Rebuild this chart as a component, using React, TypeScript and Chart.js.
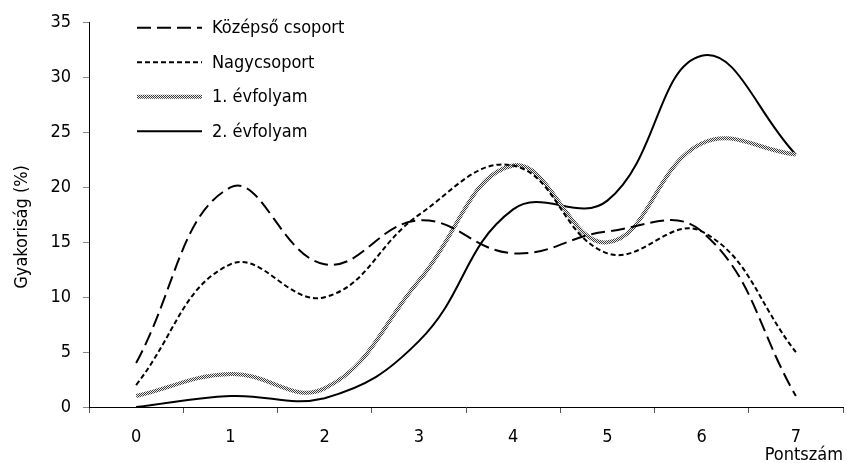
import React, { useEffect, useRef } from 'react';
import { Chart, registerables } from 'chart.js';

Chart.register(...registerables);

const categories = ['0', '1', '2', '3', '4', '5', '6', '7'];
const kozepsoCsoport = [4, 20, 13, 17, 14, 16, 16, 1];
const nagycsoport = [2, 13, 10, 17.5, 22, 14, 16, 5];
const evfolyam1 = [1, 3, 1.7, 11.5, 22, 15, 24, 23];
const evfolyam2 = [0, 1, 0.8, 6, 18, 18.8, 32, 23];
const seriesNames = ['Középső csoport', 'Nagycsoport', '1. évfolyam', '2. évfolyam'];
const yTitle = 'Gyakoriság (%)';
const xTitle = 'Pontszám';

const FONT = '"DejaVu Sans Condensed", "DejaVu Sans", sans-serif';
const FS = 18;

function makePattern(): CanvasPattern | string {
  const c = document.createElement('canvas');
  c.width = 2;
  c.height = 2;
  const g = c.getContext('2d');
  if (!g) return '#888';
  g.fillStyle = '#eeeeee';
  g.fillRect(0, 0, 2, 2);
  g.fillStyle = '#3a3a3a';
  g.fillRect(0, 0, 1, 1);
  g.fillRect(1, 1, 1, 1);
  const p = g.createPattern(c, 'repeat');
  return p || '#888';
}

const insideLegend = {
  id: 'insideLegend',
  afterDraw(chart: any) {
    const ctx = chart.ctx as CanvasRenderingContext2D;
    const area = chart.chartArea;
    const x0 = area.left + 48;
    const x1 = area.left + 113;
    const tx = area.left + 123;
    const rowStart = area.top + 5;
    const rowGap = 34.5;
    chart.data.datasets.forEach((ds: any, i: number) => {
      const y = rowStart + i * rowGap;
      ctx.save();
      ctx.strokeStyle = ds.borderColor;
      ctx.lineWidth = ds.borderWidth;
      ctx.setLineDash(ds.borderDash || []);
      ctx.beginPath();
      ctx.moveTo(x0, y);
      ctx.lineTo(x1, y);
      ctx.stroke();
      ctx.setLineDash([]);
      ctx.fillStyle = '#000';
      ctx.font = `${FS}px ${FONT}`;
      ctx.textBaseline = 'middle';
      ctx.textAlign = 'left';
      ctx.fillText(ds.label, tx, y + 1);
      ctx.restore();
    });
    // vertical axis title
    ctx.save();
    ctx.translate(22, (area.top + area.bottom) / 2 + 12);
    ctx.rotate(-Math.PI / 2);
    ctx.fillStyle = '#000';
    ctx.font = `${FS}px ${FONT}`;
    ctx.textAlign = 'center';
    ctx.textBaseline = 'middle';
    ctx.fillText(yTitle, 0, 0);
    ctx.restore();
  },
};

export default function App() {
  const ref = useRef<HTMLCanvasElement | null>(null);

  useEffect(() => {
    if (!ref.current) return;
    const pattern = makePattern();
    const tension = 0.42;
    const chart = new Chart(ref.current, {
      type: 'line',
      data: {
        labels: categories,
        datasets: [
          {
            label: seriesNames[0],
            data: kozepsoCsoport,
            borderColor: '#000',
            borderWidth: 2,
            borderDash: [14, 6],
            pointRadius: 0,
            fill: false,
            tension,
          },
          {
            label: seriesNames[1],
            data: nagycsoport,
            borderColor: '#000',
            borderWidth: 2,
            borderDash: [5, 3],
            pointRadius: 0,
            fill: false,
            tension,
          },
          {
            label: seriesNames[2],
            data: evfolyam1,
            borderColor: pattern as any,
            borderWidth: 4,
            pointRadius: 0,
            fill: false,
            tension,
          },
          {
            label: seriesNames[3],
            data: evfolyam2,
            borderColor: '#000',
            borderWidth: 2,
            pointRadius: 0,
            fill: false,
            tension,
          },
        ],
      },
      options: {
        responsive: false,
        animation: false,
        layout: { padding: { top: 21, right: 4, bottom: 0, left: 0 } },
        plugins: {
          legend: { display: false },
          tooltip: { enabled: false },
        },
        scales: {
          x: {
            type: 'category',
            offset: true,
            grid: {
              offset: true,
              drawOnChartArea: false,
              drawTicks: true,
              tickLength: 6,
              color: '#555',
            },
            border: { color: '#000', width: 1 },
            ticks: {
              color: '#000',
              font: { family: FONT, size: FS },
              padding: 14,
              maxRotation: 0,
            },
            title: {
              display: true,
              text: xTitle,
              align: 'end',
              color: '#000',
              font: { family: FONT, size: FS, lineHeight: 1 },
              padding: { top: 0, bottom: -1 },
            },
            afterFit: (scale: any) => {
              scale.height = 56;
            },
          },
          y: {
            min: 0,
            max: 35,
            ticks: {
              stepSize: 5,
              color: '#000',
              font: { family: FONT, size: FS },
              padding: 12,
            },
            grid: {
              drawOnChartArea: false,
              drawTicks: true,
              tickLength: 6,
              color: '#888',
            },
            border: { color: '#000', width: 1 },
            title: { display: false },
            afterFit: (scale: any) => {
              scale.width = 89;
            },
          },
        },
      },
      plugins: [insideLegend],
    });
    return () => chart.destroy();
  }, []);

  return (
    <div style={{ position: 'absolute', left: 0, top: 0, width: 847, height: 463 }}>
      <canvas ref={ref} width={847} height={463} style={{ display: 'block' }} />
    </div>
  );
}
